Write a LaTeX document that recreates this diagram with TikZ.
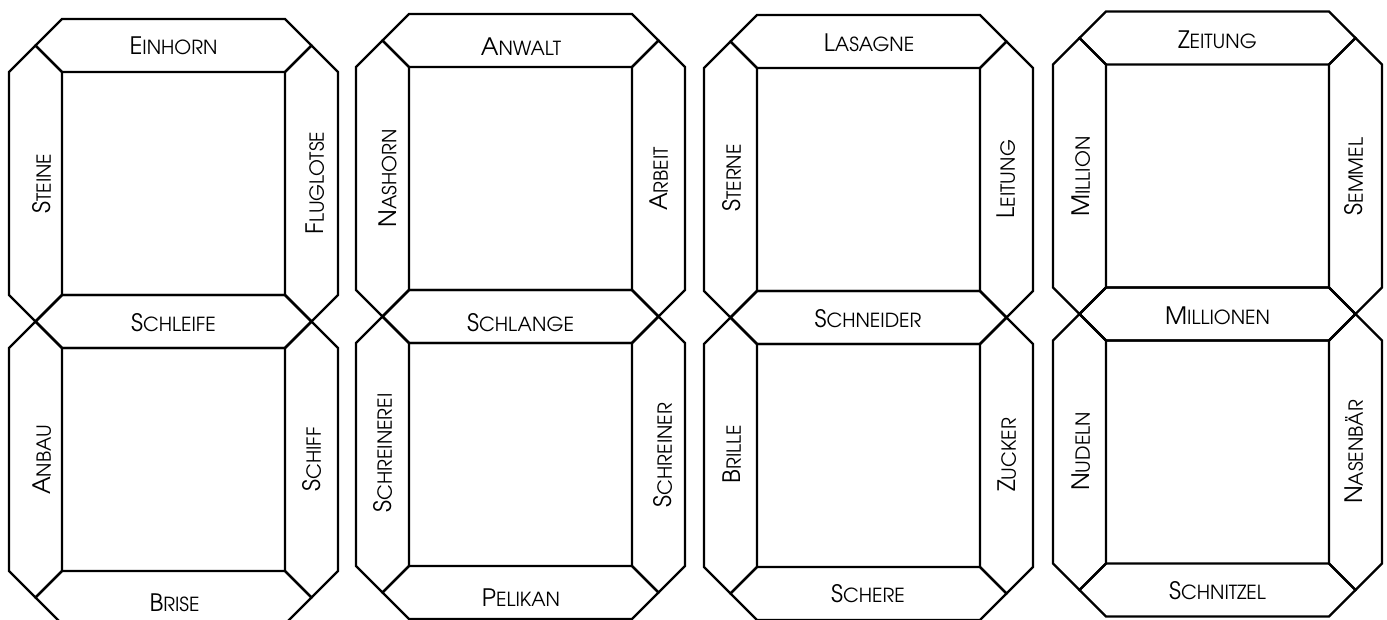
\documentclass[tikz,border=0pt]{standalone}
\usepackage{fontspec}
\setmainfont{TeX Gyre Adventor}
\newcommand\smc[2]{{\fontsize{24}{24}\selectfont #1}{\fontsize{19.4}{24}\selectfont #2}}
\tikzset{
  seg/.style={draw=black,line width=2.2pt,line join=miter},
  lab/.style={inner sep=0pt,text height=17.7pt,text depth=0pt,anchor=center,text=black},
  vlab/.style={lab,rotate=90}
}
\def\S{223}\def\W{26.5}
\newcommand\digitsegs[2]{%
  \draw[seg] (#1,#2) -- ({#1-\W},{#2-\W}) -- (#1,{#2-2*\W}) -- ({#1+\S},{#2-2*\W}) -- ({#1+\S+\W},{#2-\W}) -- ({#1+\S},#2) -- cycle;
  \draw[seg] (#1,#2) -- ({#1-\W},{#2-\W}) -- ({#1-2*\W},#2) -- ({#1-2*\W},{#2+\S}) -- ({#1-\W},{#2+\S+\W}) -- (#1,{#2+\S}) -- cycle;
  \draw[seg] ({#1+\S},#2) -- ({#1+\S+\W},{#2-\W}) -- ({#1+\S+2*\W},#2) -- ({#1+\S+2*\W},{#2+\S}) -- ({#1+\S+\W},{#2+\S+\W}) -- ({#1+\S},{#2+\S}) -- cycle;
  \draw[seg] (#1,{#2+\S}) -- ({#1-\W},{#2+\S+\W}) -- (#1,{#2+\S+2*\W}) -- ({#1+\S},{#2+\S+2*\W}) -- ({#1+\S+\W},{#2+\S+\W}) -- ({#1+\S},{#2+\S}) -- cycle;
}
\begin{document}
\begin{tikzpicture}[x=1pt,y=-1pt]
\useasboundingbox (0,0) rectangle (1387,619);
\clip (0,0) rectangle (1387,619);
\fill[white] (0,0) rectangle (1387,619);
\digitsegs{62}{72}\digitsegs{62}{348}
\digitsegs{409}{67}\digitsegs{409}{343}
\digitsegs{757}{68}\digitsegs{757}{344}
\digitsegs{1106}{64.5}\digitsegs{1106}{340.5}
% column 1
\node[lab]  (einhorn)   at (173.5,46)    {\smc{E}{INHORN}};
\node[vlab] (steine)    at (42,183.5)    {\smc{S}{TEINE}};
\node[vlab] (fluglotse) at (315,183)     {\smc{F}{LUGLOTSE}};
\node[lab]  (schleife)  at (173.5,322.7) {\smc{S}{CHLEIFE}};
\node[vlab] (anbau)     at (42,460)      {\smc{A}{NBAU}};
\node[vlab] (schiff)    at (312,459.5)   {\smc{S}{CHIFF}};
\node[lab]  (brise)     at (174.5,602.5) {\smc{B}{RISE}};
% column 2
\node[lab]  (anwalt)      at (521,46.5)    {\smc{A}{NWALT}};
\node[vlab] (nashorn)     at (387.5,178.5) {\smc{N}{ASHORN}};
\node[vlab] (arbeit)      at (659,179)     {\smc{A}{RBEIT}};
\node[lab]  (schlange)    at (520.5,322.7) {\smc{S}{CHLANGE}};
\node[vlab] (schreinerei) at (383,453)     {\smc{S}{CHREINEREI}};
\node[vlab] (schreiner)   at (663,455)     {\smc{S}{CHREINER}};
\node[lab]  (pelikan)     at (521,597.5)   {\smc{P}{ELIKAN}};
% column 3
\node[lab]  (lasagne)   at (869,42.5)    {\smc{L}{ASAGNE}};
\node[vlab] (sterne)    at (732,178)     {\smc{S}{TERNE}};
\node[vlab] (leitung)   at (1006,179)    {\smc{L}{EITUNG}};
\node[lab]  (schneider) at (868,318.7)   {\smc{S}{CHNEIDER}};
\node[vlab] (brille)    at (732,454)     {\smc{B}{RILLE}};
\node[vlab] (zucker)    at (1007,455)    {\smc{Z}{UCKER}};
\node[lab]  (schere)    at (868,593.8)   {\smc{S}{CHERE}};
% column 4
\node[lab]  (zeitung)   at (1217.5,40)    {\smc{Z}{EITUNG}};
\node[vlab] (million)   at (1081,176.5)   {\smc{M}{ILLION}};
\node[vlab] (semmel)    at (1354,176.5)   {\smc{S}{EMMEL}};
\node[lab]  (millionen) at (1217.5,315.3) {\smc{M}{ILLIONEN}};
\node[vlab] (nudeln)    at (1081,451.5)   {\smc{N}{UDELN}};
\node[vlab] (nasenbaer) at (1354,452)     {\smc{N}{ASENBÄR}};
\node[lab]  (schnitzel) at (1217.5,590.8) {\smc{S}{CHNITZEL}};
\end{tikzpicture}
\end{document}
